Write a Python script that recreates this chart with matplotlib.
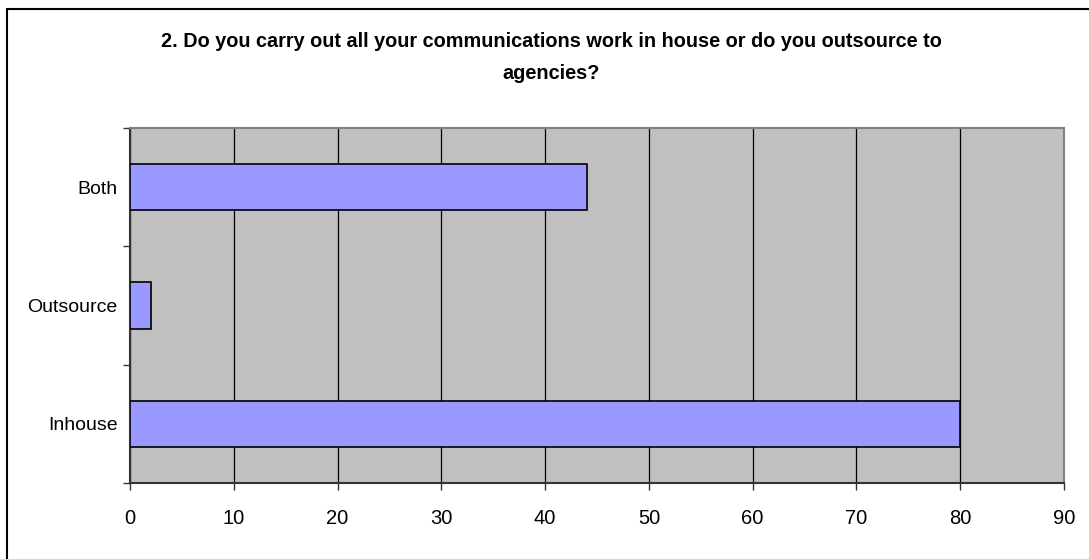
import matplotlib
matplotlib.use("Agg")
import matplotlib.pyplot as plt
from matplotlib.patches import Rectangle

# data
categories = ["Inhouse", "Outsource", "Both"]
values = [80, 2, 44]
xticks = [0, 10, 20, 30, 40, 50, 60, 70, 80, 90]
title_lines = ["2. Do you carry out all your communications work in house or do you outsource to",
               "agencies?"]

fam = ["Liberation Sans", "DejaVu Sans"]

fig = plt.figure(figsize=(10.89, 5.59), dpi=100)
fig.patch.set_facecolor("white")

# outer chart border (only top/left visible in the crop)
fig.patches.append(Rectangle((7 / 1089, -0.05), 1.2, 1 - 9 / 559 + 0.05,
                             transform=fig.transFigure, fill=False,
                             edgecolor="black", linewidth=1.5))

ax = fig.add_axes([130 / 1089, 1 - 483 / 559, (1064 - 130) / 1089, (483 - 128) / 559])
ax.set_facecolor("#C0C0C0")

ypos = list(range(len(categories)))
ax.barh(ypos, values, height=0.39, color="#9999FF", edgecolor="black",
        linewidth=1.2, zorder=3)

ax.set_xlim(0, 90)
ax.set_ylim(-0.5, 2.5)
ax.set_xticks(xticks)
ax.set_xticklabels([str(t) for t in xticks], family=fam, fontsize=14.5)
ax.set_yticks(ypos)
ax.set_yticklabels(categories, family=fam, fontsize=14)
ax.set_yticks([-0.5, 0.5, 1.5, 2.5], minor=True)
ax.tick_params(axis="y", which="major", length=0, pad=9)
ax.tick_params(axis="y", which="minor", length=5, width=1, color="#333333", left=True)
ax.tick_params(axis="x", length=5, width=1, color="#333333", pad=14)
ax.xaxis.grid(True, color="black", linewidth=0.9, zorder=1)
ax.set_axisbelow(True)

for side in ["top", "right"]:
    ax.spines[side].set_color("#808080")
    ax.spines[side].set_linewidth(1.5)
for side in ["left", "bottom"]:
    ax.spines[side].set_color("#333333")
    ax.spines[side].set_linewidth(1.5)

fig.text(0.506, 1 - 47 / 559, title_lines[0], ha="center", va="baseline",
         family=fam, fontsize=14.3, fontweight="bold")
fig.text(0.506, 1 - 79 / 559, title_lines[1], ha="center", va="baseline",
         family=fam, fontsize=14.3, fontweight="bold")

fig.savefig("out.png", dpi=100)
